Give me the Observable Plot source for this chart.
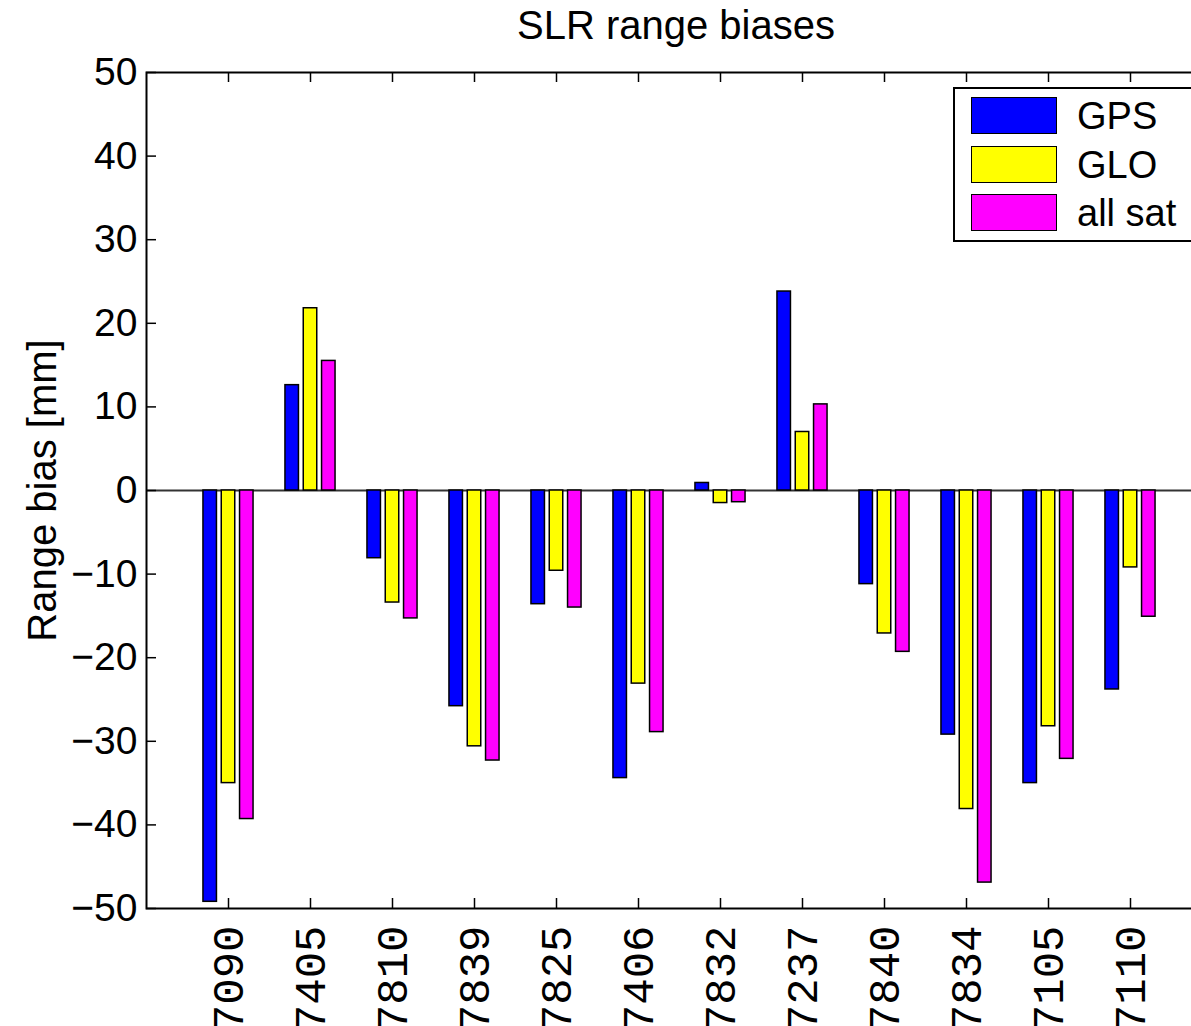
<!DOCTYPE html>
<html>
<head>
<meta charset="utf-8">
<script src="https://cdn.jsdelivr.net/npm/d3@7"></script>
<script src="https://cdn.jsdelivr.net/npm/@observablehq/plot@0.6"></script>
<style>
  html, body { margin: 0; padding: 0; background: white; overflow: hidden; }
  #wrap { position: relative; width: 1191px; height: 1026px; overflow: hidden; font-family: "Liberation Sans", Arial, sans-serif; }
  #title { position: absolute; top: 5px; left: 676px; transform: translateX(-50%); font-size: 40px; line-height: 40px; white-space: nowrap; color: #000; }
  #chart { position: absolute; top: 0; left: 0; width: 1240px; }
  #chart svg { max-width: none !important; }
  #legend { position: absolute; left: 953px; top: 87px; width: 260px; height: 151px; border: 2px solid #000; background: #fff; }
  .sw { position: absolute; left: 16px; width: 84px; height: 35px; border: 1.5px solid #000; }
  .lt { position: absolute; left: 122px; font-size: 38px; line-height: 38px; white-space: nowrap; color: #000; }
</style>
</head>
<body>
<div id="wrap">
  <div id="chart"></div>
  <div id="title">SLR range biases</div>
  <div id="legend"></div>
</div>
<script>
const stations = ["7090","7405","7810","7839","7825","7406","7832","7237","7840","7834","7105","7110"];
const gps    = [-49.2, 12.6, -8.1, -25.8, -13.6, -34.4, 0.9, 23.8, -11.2, -29.2, -35.0, -23.8];
const glo    = [-35.0, 21.8, -13.4, -30.6, -9.6, -23.1, -1.5, 7.0, -17.1, -38.1, -28.2, -9.2];
const allsat = [-39.3, 15.5, -15.3, -32.3, -14.0, -28.9, -1.4, 10.3, -19.3, -46.9, -32.1, -15.1];
const seriesNames = ["GPS", "GLO", "all sat"];
const seriesColors = ["#0000ff", "#ffff00", "#ff00ff"];
const yTicks = [-50, -40, -30, -20, -10, 0, 10, 20, 30, 40, 50];

const table = stations.map((s, i) => ({station: s, GPS: gps[i], GLO: glo[i], ALL: allsat[i]}));

const W = 1240, H = 1026;
const mL = 146, mT = 72, mB = 118, mR = 28;
const innerW = W - mL - mR;   // 1066
const innerH = H - mT - mB;   // 836
const barInset = 34.25;
const offs = [-18.3, 0, 18.3];
const keys = ["GPS", "GLO", "ALL"];

const fmt = d => d < 0 ? "\u2212" + (-d) : String(d);

const marks = [
  Plot.ruleY([0], {stroke: "#333333", strokeWidth: 2})
];
keys.forEach((k, j) => {
  marks.push(Plot.barY(table, {
    x: "station", y: k, fill: seriesColors[j], stroke: "#000", strokeWidth: 1.5,
    insetLeft: barInset, insetRight: barInset, dx: offs[j]
  }));
});
marks.push(
  Plot.tickX(stations, {x: d => d, insetTop: innerH - 10, stroke: "#000", strokeWidth: 1.5}),
  Plot.tickX(stations, {x: d => d, insetBottom: innerH - 10, stroke: "#000", strokeWidth: 1.5}),
  Plot.tickY(yTicks, {y: d => d, insetRight: innerW - 10, stroke: "#000", strokeWidth: 1.5}),
  Plot.frame({stroke: "#000", strokeWidth: 2}),
  Plot.axisY({ticks: yTicks, tickSize: 0, tickPadding: 9, tickFormat: fmt, fontSize: 39, fill: "#000", label: null}),
  Plot.text(stations, {
    x: d => d, frameAnchor: "bottom", dy: 17, rotate: -90, textAnchor: "end", lineAnchor: "middle",
    fontFamily: "Liberation Mono", fontSize: 44, fill: "#000"
  }),
  Plot.text(["Range bias [mm]"], {
    frameAnchor: "left", dx: -91, rotate: -90, textAnchor: "middle", lineAnchor: "bottom",
    fontSize: 40, fill: "#000"
  })
);

const chart = Plot.plot({
  width: W, height: H,
  marginLeft: mL, marginTop: mT, marginBottom: mB, marginRight: mR,
  style: {fontFamily: "Liberation Sans", fontSize: "39px", background: "white", overflow: "visible", color: "#000", maxWidth: "none"},
  x: {type: "band", domain: stations, paddingInner: 0, paddingOuter: 0.5, axis: null},
  y: {domain: [-50, 50], axis: null},
  marks
});
chart.style.maxWidth = "none";
chart.style.width = W + "px";
chart.style.height = H + "px";
document.getElementById("chart").appendChild(chart);

const legend = document.getElementById("legend");
const swTops = [8, 57, 105];
seriesNames.forEach((n, j) => {
  const sw = document.createElement("div");
  sw.className = "sw";
  sw.style.top = swTops[j] + "px";
  sw.style.background = seriesColors[j];
  legend.appendChild(sw);
  const t = document.createElement("div");
  t.className = "lt";
  t.style.top = swTops[j] + "px";
  t.textContent = n;
  legend.appendChild(t);
});
</script>
</body>
</html>
